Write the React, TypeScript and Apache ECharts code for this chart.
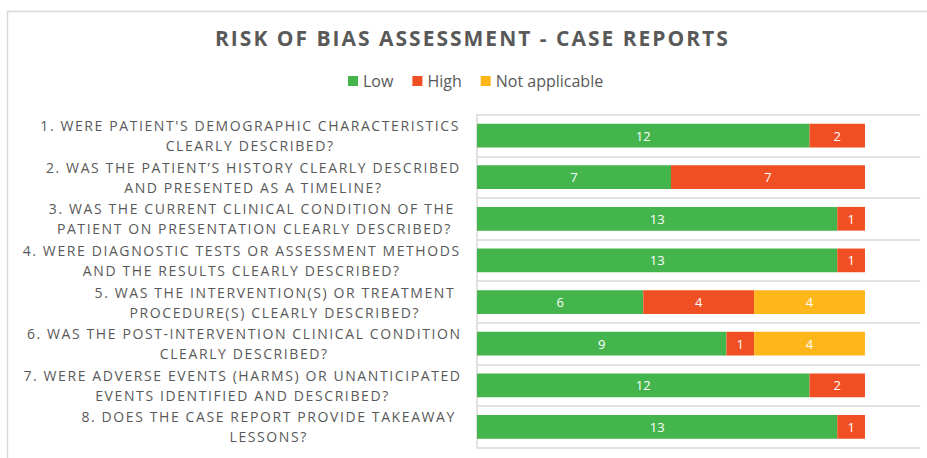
import React, { useEffect, useRef } from "react";
import * as echarts from "echarts";

const categories: string[] = [
  "1. WERE PATIENT'S DEMOGRAPHIC CHARACTERISTICS\nCLEARLY DESCRIBED?",
  "2. WAS THE PATIENT\u2019S HISTORY CLEARLY DESCRIBED\nAND PRESENTED AS A TIMELINE?",
  "3. WAS THE CURRENT CLINICAL CONDITION OF THE \nPATIENT ON PRESENTATION CLEARLY DESCRIBED?",
  "4. WERE DIAGNOSTIC TESTS OR ASSESSMENT METHODS\nAND THE RESULTS CLEARLY DESCRIBED?",
  "5. WAS THE INTERVENTION(S) OR TREATMENT\nPROCEDURE(S) CLEARLY DESCRIBED?",
  "6. WAS THE POST-INTERVENTION CLINICAL CONDITION\nCLEARLY DESCRIBED?",
  "7. WERE ADVERSE EVENTS (HARMS) OR UNANTICIPATED\nEVENTS IDENTIFIED AND DESCRIBED?",
  "8. DOES THE CASE REPORT PROVIDE TAKEAWAY\nLESSONS?",
];

const lowValues: number[] = [12, 7, 13, 13, 6, 9, 12, 13];
const highValues: number[] = [2, 7, 1, 1, 4, 1, 2, 1];
const naValues: number[] = [0, 0, 0, 0, 4, 4, 0, 0];

const seriesNames: string[] = ["Low", "High", "Not applicable"];
const seriesColors: string[] = ["#43B54C", "#F04E23", "#FDB71B"];

const titleText = "RISK OF BIAS ASSESSMENT - CASE REPORTS";
const textColor = "#595959";
const gridColor = "#d9d9d9";

const spacingCss = `
svg text[style*="Roboto"], svg tspan[style*="Roboto"], svg text[font-family*="Roboto"] { letter-spacing: 1.6px; }
svg text[style*="Lato"], svg tspan[style*="Lato"], svg text[font-family*="Lato"] { letter-spacing: 2px; }
`;

export default function App() {
  const ref = useRef<HTMLDivElement>(null);

  useEffect(() => {
    if (!ref.current) return;
    const chart = echarts.init(ref.current, null, { renderer: "svg" });
    const values = [lowValues, highValues, naValues];
    const option: any = {
      animation: false,
      backgroundColor: "#ffffff",
      title: {
        text: titleText,
        left: 215,
        top: 22,
        padding: [5, 0, 5, 0],
        textStyle: {
          fontFamily: "Open Sans, Lato",
          fontWeight: "bold",
          fontSize: 21,
          color: textColor,
        },
      },
      legend: {
        data: seriesNames,
        left: 348,
        top: 68,
        padding: [5, 0, 5, 0],
        itemWidth: 10,
        itemHeight: 10,
        itemGap: 19,
        icon: "rect",
        textStyle: {
          fontFamily: "Open Sans",
          fontSize: 16,
          color: textColor,
        },
      },
      graphic: [
        {
          type: "rect",
          shape: { x: 7.5, y: 11.5, width: 1000, height: 500 },
          style: { fill: "none", stroke: gridColor, lineWidth: 1.5 },
          silent: true,
          z: -1,
        },
      ],
      grid: {
        left: 477,
        top: 114.7,
        bottom: 10.3,
        right: 6.6,
        containLabel: false,
      },
      xAxis: {
        type: "value",
        min: 0,
        max: 16,
        show: false,
        splitLine: { show: false },
      },
      yAxis: {
        type: "category",
        data: categories,
        inverse: true,
        axisTick: { show: false },
        axisLine: { show: true, lineStyle: { color: gridColor, width: 1.5 } },
        splitLine: { show: true, lineStyle: { color: gridColor, width: 1.5 } },
        axisLabel: {
          margin: 53,
          formatter: (v: string) =>
            v
              .split("\n")
              .map((l) => `{c|${l}}`)
              .join("\n"),
          rich: {
            c: {
              align: "center",
              fontFamily: "Open Sans, Roboto",
              fontSize: 14,
              color: textColor,
              lineHeight: 20,
            },
          },
        },
      },
      series: seriesNames.map((name, i) => ({
        name,
        type: "bar",
        stack: "total",
        data: values[i],
        barCategoryGap: "43%",
        itemStyle: { color: seriesColors[i] },
        label: {
          show: true,
          position: "inside",
          color: "#ffffff",
          fontFamily: "Open Sans",
          fontSize: 13,
          formatter: (p: any) => (p.value ? String(p.value) : ""),
        },
      })),
    };
    chart.setOption(option);
    return () => chart.dispose();
  }, []);

  return (
    <>
      <style>{spacingCss}</style>
      <div
        ref={ref}
        style={{ position: "absolute", left: 0, top: 0, width: 927, height: 458 }}
      />
    </>
  );
}
